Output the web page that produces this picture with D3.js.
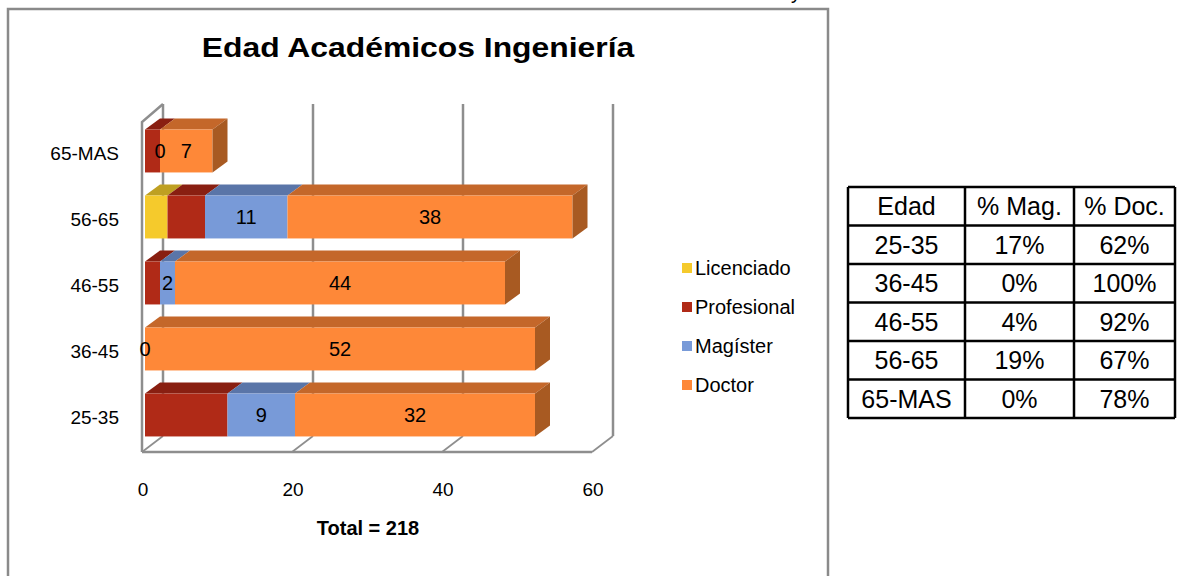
<!DOCTYPE html>
<html>
<head>
<meta charset="utf-8">
<script src="https://cdn.jsdelivr.net/npm/d3@7"></script>
<style>
  body { margin: 0; background: #fff; }
  text { font-family: "Liberation Sans", Arial, sans-serif; fill: #000; }
</style>
</head>
<body>
<div id="chart"></div>
<script>
// data
var categories = ["25-35", "36-45", "46-55", "56-65", "65-MAS"];
var seriesNames = ["Licenciado", "Profesional", "Magíster", "Doctor"];
var licenciado = [0, 0, 0, 3, 0];
var profesional = [11, 0, 2, 5, 2];
var magister = [9, 0, 2, 11, 0];
var doctor = [32, 52, 44, 38, 7];
var labelledSeries = ["Magíster", "Doctor"];
var xTicks = [0, 20, 40, 60];
var tableHeader = ["Edad", "% Mag.", "% Doc."];
var pctMag = ["17%", "0%", "4%", "19%", "0%"];
var pctDoc = ["62%", "100%", "92%", "67%", "78%"];

var frontColor = { "Licenciado": "#f5ca2c", "Profesional": "#b02a17", "Magíster": "#789ad8", "Doctor": "#fe8838" };
var topColor = { "Licenciado": "#bfa022", "Profesional": "#891f11", "Magíster": "#5a75a8", "Doctor": "#c4672a" };
var sideColor = { "Licenciado": "#a88c1c", "Profesional": "#761a0e", "Magíster": "#4d6592", "Doctor": "#a85a22" };

var rows = categories.map(function (c, i) {
    return { cat: c, "Licenciado": licenciado[i], "Profesional": profesional[i], "Magíster": magister[i], "Doctor": doctor[i] };
});
var total = d3.sum(rows, function (r) { return d3.sum(seriesNames, function (s) { return r[s]; }); });

var svg = d3.select("#chart").append("svg")
    .attr("width", 1178)
    .attr("height", 576);

// chart frame
svg.append("rect")
    .attr("x", 8).attr("y", 9)
    .attr("width", 820).attr("height", 580)
    .attr("fill", "#fff")
    .attr("stroke", "#8a8a8a")
    .attr("stroke-width", 2.5);

// cut-off glyph above the frame
svg.append("text").attr("x", 796).attr("y", -1)
    .attr("text-anchor", "middle").style("font-size", "20px").text("y");

svg.append("text")
    .attr("transform", "translate(418,57) scale(1.18,1)")
    .attr("text-anchor", "middle")
    .style("font-size", "27px").style("font-weight", "bold")
    .text("Edad Académicos Ingeniería");

var x = d3.scaleLinear().domain([0, 60]).range([142, 592]);
var y = d3.scaleBand()
    .domain(categories.slice().reverse())
    .range([118, 448])
    .paddingInner(0.35)
    .paddingOuter(0.175);

var wall = { dx: 21, dy: -16 };   // depth of walls / floor
var bar = { dx: 15, dy: -11, ox: 3 };   // depth of bars and their shift from front
var floorY = 452, gridTop = 104;
var gridColor = "#8e8e8e";

// back wall grid lines
svg.append("g").selectAll("line")
    .data(xTicks)
    .join("line")
    .attr("x1", function (d) { return x(d) + wall.dx; })
    .attr("x2", function (d) { return x(d) + wall.dx; })
    .attr("y1", gridTop)
    .attr("y2", floorY + wall.dy)
    .attr("stroke", gridColor).attr("stroke-width", 2.5);

// floor
var floor = svg.append("g").attr("stroke", gridColor).attr("stroke-width", 2.5).attr("fill", "none");
floor.append("line")
    .attr("x1", x(0)).attr("x2", x(60))
    .attr("y1", floorY).attr("y2", floorY);
floor.selectAll(".fl")
    .data(xTicks)
    .join("line")
    .attr("class", "fl")
    .attr("x1", function (d) { return x(d); })
    .attr("y1", floorY)
    .attr("x2", function (d) { return x(d) + wall.dx; })
    .attr("y2", floorY + wall.dy)
    .attr("stroke-width", 1.8);

// left wall
floor.append("path")
    .attr("d", "M" + x(0) + "," + floorY + "V" + (gridTop + 18) +
        "L" + (x(0) + wall.dx) + "," + gridTop);

// stacked bars
var stack = d3.stack().keys(seriesNames)(rows);
var barsG = svg.append("g");

rows.forEach(function (r, i) {
    var y0 = y(r.cat), h = y.bandwidth();
    var last = null;
    stack.forEach(function (layer) {
        var s = layer.key, d = layer[i];
        var xa = x(d[0]) + bar.ox, xb = x(d[1]) + bar.ox;
        if (d[1] - d[0] > 0) {
            barsG.append("path")
                .attr("d", "M" + xa + "," + y0 + "L" + (xa + bar.dx) + "," + (y0 + bar.dy) +
                    "L" + (xb + bar.dx) + "," + (y0 + bar.dy) + "L" + xb + "," + y0 + "Z")
                .attr("fill", topColor[s]);
            barsG.append("rect")
                .attr("x", xa).attr("y", y0)
                .attr("width", xb - xa).attr("height", h)
                .attr("fill", frontColor[s]);
            last = { s: s, xb: xb };
        }
    });
    if (last) {
        barsG.append("path")
            .attr("d", "M" + last.xb + "," + y0 + "L" + (last.xb + bar.dx) + "," + (y0 + bar.dy) +
                "L" + (last.xb + bar.dx) + "," + (y0 + bar.dy + h) + "L" + last.xb + "," + (y0 + h) + "Z")
            .attr("fill", sideColor[last.s]);
    }
    // value labels
    stack.forEach(function (layer) {
        if (labelledSeries.indexOf(layer.key) < 0) return;
        var d = layer[i];
        barsG.append("text")
            .attr("x", (x(d[0]) + x(d[1])) / 2 + bar.ox)
            .attr("y", y0 + h / 2)
            .attr("dy", "0.35em")
            .attr("text-anchor", "middle")
            .style("font-size", "20px")
            .text(d[1] - d[0]);
    });
});

// category labels
svg.append("g").selectAll("text")
    .data(categories)
    .join("text")
    .attr("x", 119)
    .attr("y", function (d) { return y(d) + y.bandwidth() / 2 + 2; })
    .attr("dy", "0.35em")
    .attr("text-anchor", "end")
    .style("font-size", "19px")
    .text(function (d) { return d; });

// x tick labels
svg.append("g").selectAll("text")
    .data(xTicks)
    .join("text")
    .attr("x", function (d) { return x(d) + 1; })
    .attr("y", 496)
    .attr("text-anchor", "middle")
    .style("font-size", "19px")
    .text(function (d) { return d; });

svg.append("text")
    .attr("x", 368).attr("y", 535)
    .attr("text-anchor", "middle")
    .style("font-size", "20px").style("font-weight", "bold")
    .text("Total = " + total);

// legend
var legendY = d3.scalePoint().domain(seriesNames.slice()).range([268, 385]);
var legend = svg.append("g").selectAll("g")
    .data(seriesNames)
    .join("g")
    .attr("transform", function (d) { return "translate(682," + legendY(d) + ")"; });
legend.append("rect")
    .attr("x", 0).attr("y", -5).attr("width", 10).attr("height", 10)
    .attr("fill", function (d) { return frontColor[d]; });
legend.append("text")
    .attr("x", 13).attr("dy", "0.35em")
    .style("font-size", "20px")
    .text(function (d) { return d; });

// side table
var colEdges = [848, 965, 1074, 1175];
var rowEdges = d3.range(7).map(function (i) { return 187 + i * 38.5; });
var tableRows = [tableHeader].concat(categories.map(function (c, i) { return [c, pctMag[i], pctDoc[i]]; }));
var table = svg.append("g");
table.selectAll(".hl")
    .data(rowEdges)
    .join("line")
    .attr("class", "hl")
    .attr("x1", colEdges[0]).attr("x2", colEdges[3])
    .attr("y1", function (d) { return d; }).attr("y2", function (d) { return d; })
    .attr("stroke", "#000").attr("stroke-width", 2.5);
table.selectAll(".vl")
    .data(colEdges)
    .join("line")
    .attr("class", "vl")
    .attr("x1", function (d) { return d; }).attr("x2", function (d) { return d; })
    .attr("y1", rowEdges[0]).attr("y2", rowEdges[6])
    .attr("stroke", "#000").attr("stroke-width", 2.5);
tableRows.forEach(function (r, ri) {
    r.forEach(function (v, ci) {
        table.append("text")
            .attr("x", (colEdges[ci] + colEdges[ci + 1]) / 2)
            .attr("y", (rowEdges[ri] + rowEdges[ri + 1]) / 2)
            .attr("dy", "0.35em")
            .attr("text-anchor", "middle")
            .style("font-size", "25px")
            .text(v);
    });
});
</script>
</body>
</html>
